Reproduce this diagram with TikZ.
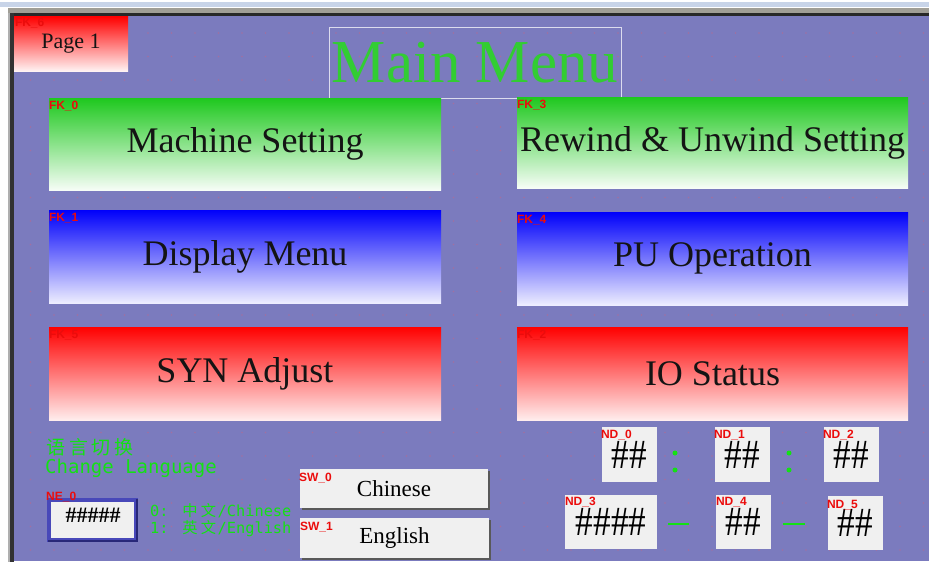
\documentclass[tikz,border=0pt]{standalone}
\usepackage{fontspec}
\usepackage{graphicx}
\usetikzlibrary{shadows}
\setmainfont{Liberation Serif}
\newfontfamily\tagfont{Liberation Sans}
\newfontfamily\monofont{DejaVu Sans Mono}
\newfontfamily\cjkfont{Noto Sans CJK SC}

% colours of the operator panel
\definecolor{panel}{RGB}{123,123,190}
\definecolor{griddot}{RGB}{162,112,160}
\definecolor{titlegreen}{RGB}{50,205,50}
\definecolor{txtgreen}{RGB}{20,225,20}
\definecolor{tagred}{RGB}{235,12,12}
\definecolor{btngreen}{RGB}{30,200,30}
\definecolor{btnblue}{RGB}{0,0,250}
\definecolor{btnred}{RGB}{255,0,0}
\definecolor{keygrey}{RGB}{240,240,240}
\definecolor{titleedge}{RGB}{220,220,238}
\definecolor{neborder}{RGB}{72,72,185}
\definecolor{nedark}{RGB}{40,40,120}
\definecolor{framelight}{RGB}{200,212,232}
\definecolor{framegrey}{RGB}{160,158,150}
\definecolor{framedark}{RGB}{40,40,40}
\definecolor{frameedge}{RGB}{175,175,175}
\definecolor{frameleft}{RGB}{50,50,50}

% one CJK character in a fixed-width cell
\newcommand\cjkcell[2]{\makebox[#1][c]{#2}}
% tall hash marks of the numeric displays
\newcommand\hashes[1]{\raisebox{-2pt}{\scalebox{0.95}[1.12]{#1}}}

\tikzset{
  menubtn/.style={minimum width=392pt, minimum height=92pt, inner sep=0pt,
    font=\fontsize{36}{40}\selectfont, text=black!92},
  greenbtn/.style={menubtn, top color=btngreen, bottom color=btngreen!4!white},
  bluebtn/.style={menubtn, top color=btnblue, bottom color=btnblue!7!white},
  redbtn/.style={menubtn, top color=btnred, bottom color=btnred!7!white},
  tag/.style={anchor=north west, inner sep=0pt, text=tagred,
    font=\tagfont\bfseries\fontsize{12}{12}\selectfont},
  swbtn/.style={minimum width=188pt, minimum height=39pt, inner sep=0pt,
    fill=keygrey, font=\fontsize{23}{23}\selectfont,
    drop shadow={shadow xshift=2pt, shadow yshift=-2pt, fill=black!65, opacity=1}},
  ndbox/.style={minimum width=55pt, minimum height=55pt, inner sep=0pt,
    fill=keygrey, font=\fontsize{37}{37}\selectfont},
  greentext/.style={anchor=base west, inner sep=0pt, text=txtgreen},
  sepline/.style={txtgreen, line width=2.5pt},
}

\begin{document}
\begin{tikzpicture}[x=1pt, y=-1pt]
\useasboundingbox (0,0) rectangle (929,565);

% window frame and panel background
\fill[white] (0,0) rectangle (929,565);
\fill[framelight] (0,2) rectangle (929,7);
\fill[framegrey] (8,8) rectangle (929,13);
\fill[framedark] (8,13) rectangle (929,16);
\fill[frameedge] (8,13) rectangle (10,562);
\fill[frameleft] (10,13) rectangle (14,562);
\fill[panel] (14,16) rectangle (929,561);

% editor grid
\foreach \i in {0,...,38} {
  \foreach \j in {0,...,22} {
    \fill[griddot] (30.5+\i*23.5, 33+\j*23.5) circle[radius=0.9pt];
  }
}

% page key
\node[minimum width=114pt, minimum height=55pt, inner sep=0pt,
      top color=btnred, bottom color=btnred!4!white,
      font=\fontsize{22}{22}\selectfont, text=black!92] (pg) at (71,44) {Page 1};
\node[tag] (tpg) at ([shift={(1,2)}]pg.north west) {FK\_6};

% title
\node[draw=titleedge, line width=1pt, minimum width=292pt, minimum height=71pt,
      inner sep=0pt, text=titlegreen, font=\fontsize{61}{61}\selectfont]
      (title) at (475,62.5) {Main Menu};

% function keys
\node[greenbtn] (ms) at (245,144) {Machine Setting};
\node[greenbtn, minimum width=391pt, minimum height=91pt] (rw) at (712.5,142.5) {Rewind \& Unwind Setting};
\node[bluebtn, minimum height=93pt] (dm) at (245,256.5) {Display Menu};
\node[bluebtn, minimum width=391pt, minimum height=93pt] (pu) at (712.5,258.5) {PU Operation};
\node[redbtn, minimum height=93pt] (syn) at (245,373.5) {SYN Adjust};
\node[redbtn, minimum width=391pt, minimum height=93pt] (io) at (712.5,373.5) {IO Status};

\node[tag] (tms) at ([shift={(0,3)}]ms.north west) {FK\_0};
\node[tag] (trw) at ([shift={(0,3)}]rw.north west) {FK\_3};
\node[tag] (tdm) at ([shift={(0,3)}]dm.north west) {FK\_1};
\node[tag] (tpu) at ([shift={(0,3)}]pu.north west) {FK\_4};
\node[tag] (tsyn) at ([shift={(0,3)}]syn.north west) {FK\_5};
\node[tag] (tio) at ([shift={(0,3)}]io.north west) {FK\_2};

% language selection
\node[greentext] (langzh) at (45,454)
  {\fontsize{19}{19}\cjkfont\cjkcell{22.5pt}{语}\cjkcell{22.5pt}{言}\cjkcell{22.5pt}{切}\cjkcell{22.5pt}{换}};
\node[greentext, font=\fontsize{19}{19}\monofont] (langen) at (45,473) {Change Language};
\node[greentext, font=\fontsize{15.3}{15.3}\monofont] (opt0) at (150,516)
  {0: {\cjkfont\cjkcell{18.4pt}{中}\cjkcell{18.4pt}{文}}/Chinese};
\node[greentext, font=\fontsize{15.3}{15.3}\monofont] (opt1) at (150,533)
  {1: {\cjkfont\cjkcell{18.4pt}{英}\cjkcell{18.4pt}{文}}/English};

% numeric entry for the language number
\node[minimum width=87pt, minimum height=40pt, inner sep=0pt, fill=keygrey,
      draw=neborder, line width=4pt] (ne) at (92.5,520) {};
\draw[nedark, line width=2pt] ([shift={(1,-1)}]ne.south west) -- ([shift={(-1,-1)}]ne.south east)
  -- ([shift={(-1,1)}]ne.north east);
\node[inner sep=0pt, font=\bfseries\fontsize{22}{22}\selectfont] (nehash) at (93,515) {\#\#\#\#\#};
\node[tag] (tne) at (46,492) {NE\_0};

% language switches
\node[swbtn] (sw0) at (394,488.5) {Chinese};
\node[swbtn, minimum width=189pt, minimum height=40pt] (sw1) at (394.5,538) {English};
\node[tag] (tsw0) at ([shift={(-1,4)}]sw0.north west) {SW\_0};
\node[tag] (tsw1) at ([shift={(0,4)}]sw1.north west) {SW\_1};

% clock and date displays
\node[ndbox] (nd0) at (629.5,454.5) {\hashes{\#\#}};
\node[ndbox] (nd1) at (742.5,454.5) {\hashes{\#\#}};
\node[ndbox] (nd2) at (851.5,454.5) {\hashes{\#\#}};
\node[ndbox, minimum width=92pt, minimum height=54pt] (nd3) at (611,522) {\hashes{\#\#\#\#}};
\node[ndbox, minimum height=54pt] (nd4) at (743.5,522) {\hashes{\#\#}};
\node[ndbox, minimum height=54pt] (nd5) at (855.5,523) {\hashes{\#\#}};

\node[tag] (tnd0) at ([shift={(-1,3)}]nd0.north west) {ND\_0};
\node[tag] (tnd1) at ([shift={(-1,3)}]nd1.north west) {ND\_1};
\node[tag] (tnd2) at ([shift={(-1,3)}]nd2.north west) {ND\_2};
\node[tag] (tnd3) at ([shift={(0,2)}]nd3.north west) {ND\_3};
\node[tag] (tnd4) at ([shift={(0,2)}]nd4.north west) {ND\_4};
\node[tag] (tnd5) at ([shift={(-1,4)}]nd5.north west) {ND\_5};

% separators between the fields
\fill[txtgreen] (675,453) circle[radius=2.5pt] (675,470) circle[radius=2.5pt];
\fill[txtgreen] (789,453) circle[radius=2.5pt] (789,470) circle[radius=2.5pt];
\draw[sepline] (668,524) -- (689,524);
\draw[sepline] (783,524) -- (805,524);
\end{tikzpicture}
\end{document}
